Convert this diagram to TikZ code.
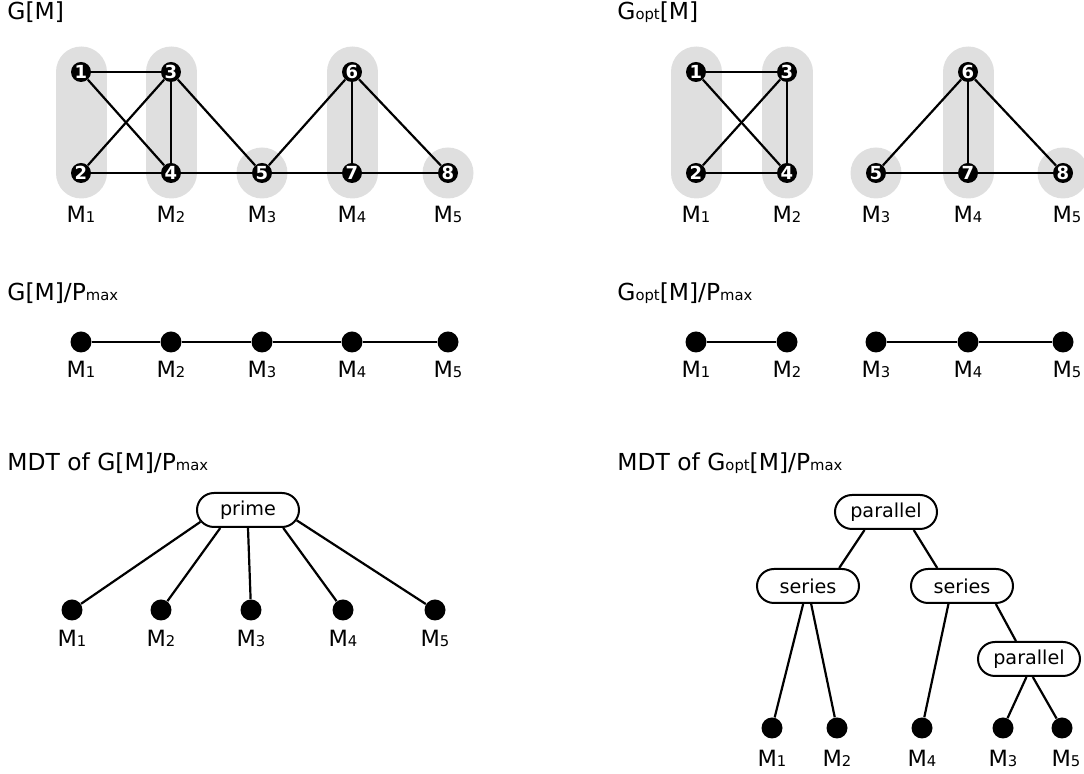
\documentclass[tikz,border=0pt]{standalone}
\usepackage{fontspec}
\setmainfont{DejaVu Sans}
\usetikzlibrary{shapes.misc}
\definecolor{bandgray}{HTML}{DFDFDF}
\tikzset{
  vtx/.style={circle,fill=black,text=white,font=\fontsize{9}{9}\selectfont\bfseries,inner sep=0pt,minimum size=10pt},
  leaf/.style={circle,fill=black,inner sep=0pt,minimum size=10.5pt},
  mod/.style={rounded rectangle,draw=black,line width=1pt,fill=white,minimum width=51pt,minimum height=17pt,inner sep=0pt,font=\fontsize{9.6}{9.6}\selectfont},
  lbl/.style={anchor=base,inner sep=0pt,font=\fontsize{11.2}{13}\selectfont},
  ttl/.style={anchor=base west,inner sep=0pt,font=\fontsize{11.7}{14}\selectfont},
  link/.style={line width=1.1pt,black},
  band/.style={line width=25.5pt,line cap=round,draw=bandgray},
}
\pgfdeclarelayer{back}
\pgfsetlayers{back,main}
\newcommand{\sub}[1]{{\fontsize{7.4}{8}\selectfont #1}}

\begin{document}
\begin{tikzpicture}[x=0.5pt,y=-0.5pt]
  \useasboundingbox (0,0) rectangle (1084,774);

  % titles
  \node[ttl] (t11) at (7,20) {G[M]};
  \node[ttl] (t12) at (617,20) {G\sub{opt}[M]};
  \node[ttl] (t21) at (7,301) {G[M]/P\sub{max}};
  \node[ttl] (t22) at (617,301) {G\sub{opt}[M]/P\sub{max}};
  \node[ttl] (t31) at (7,471) {MDT of G[M]/P\sub{max}};
  \node[ttl] (t32) at (617,471) {MDT of G\sub{opt}[M]/P\sub{max}};

  % G[M]
  \node[vtx] (g1) at (81,72) {1};
  \node[vtx] (g2) at (81,173) {2};
  \node[vtx] (g3) at (171,72) {3};
  \node[vtx] (g4) at (171,173) {4};
  \node[vtx] (g5) at (262,173) {5};
  \node[vtx] (g6) at (352,72) {6};
  \node[vtx] (g7) at (352,173) {7};
  \node[vtx] (g8) at (448,173) {8};
  \foreach \a/\b in {1/3,1/4,2/3,2/4,3/4,3/5,4/5,5/6,5/7,6/7,6/8,7/8}
    \draw[link] (g\a) -- (g\b);

  % Gopt[M]
  \node[vtx] (h1) at (696,72) {1};
  \node[vtx] (h2) at (696,173) {2};
  \node[vtx] (h3) at (787,72) {3};
  \node[vtx] (h4) at (787,173) {4};
  \node[vtx] (h5) at (876,173) {5};
  \node[vtx] (h6) at (968,72) {6};
  \node[vtx] (h7) at (968,173) {7};
  \node[vtx] (h8) at (1063,173) {8};
  \foreach \a/\b in {1/3,1/4,2/3,2/4,3/4,5/6,5/7,6/7,6/8,7/8}
    \draw[link] (h\a) -- (h\b);

  \begin{pgfonlayer}{back}
    \foreach \v in {g,h} {
      \draw[band] (\v1.center) -- (\v2.center);
      \draw[band] (\v3.center) -- (\v4.center);
      \draw[band] (\v6.center) -- (\v7.center);
      \fill[bandgray] (\v5.center) circle (12.75pt);
      \fill[bandgray] (\v8.center) circle (12.75pt);
    }
  \end{pgfonlayer}

  \foreach \i/\x in {1/81,2/171,3/262,4/352,5/448}
    \node[lbl] (gl\i) at (\x,223) {M\sub{\i}};
  \foreach \i/\x in {1/696,2/787,3/876,4/968,5/1067}
    \node[lbl] (hl\i) at (\x,223) {M\sub{\i}};

  % quotients
  \foreach \i/\x in {1/81,2/171,3/262,4/352,5/448} {
    \node[leaf] (p\i) at (\x,342) {};
    \node[lbl] (pl\i) at (\x,378) {M\sub{\i}};
  }
  \foreach \a/\b in {1/2,2/3,3/4,4/5}
    \draw[link] (p\a) -- (p\b);
  \foreach \i/\x in {1/696,2/787,3/876,4/968,5/1063}
    \node[leaf] (q\i) at (\x,342) {};
  \foreach \i/\x in {1/696,2/787,3/876,4/968,5/1067}
    \node[lbl] (ql\i) at (\x,378) {M\sub{\i}};
  \foreach \a/\b in {1/2,3/4,4/5}
    \draw[link] (q\a) -- (q\b);

  % MDT of G[M]/Pmax
  \node[mod] (prime) at (248,510) {prime};
  \foreach \i/\x/\ang in {1/72/194,2/161/213,3/251/270,4/343/333,5/435/348} {
    \node[leaf] (r\i) at (\x,610) {};
    \node[lbl] (rl\i) at (\x,647) {M\sub{\i}};
    \draw[link] (prime.\ang) -- (r\i);
  }

  % MDT of Gopt[M]/Pmax
  \node[mod] (par) at (886,512) {parallel};
  \node[mod] (ser1) at (808,586) {series};
  \node[mod] (ser2) at (962,586) {series};
  \node[mod] (par2) at (1029,659) {parallel};
  \foreach \i/\x/\lx in {1/772/772,2/837/837,4/922/922,3/1003/1003,5/1062/1066} {
    \node[leaf] (u\i) at (\x,728) {};
    \node[lbl] (ul\i) at (\lx,767) {M\sub{\i}};
  }
  \draw[link] (par.220) -- (ser1.30);
  \draw[link] (par.327) -- (ser2.144);
  \draw[link] (ser1.255) -- (u1);
  \draw[link] (ser1.280) -- (u2);
  \draw[link] (ser2.233) -- (u4);
  \draw[link] (ser2.332) -- (par2.126);
  \draw[link] (par2.262) -- (u3);
  \draw[link] (par2.282) -- (u5);
\end{tikzpicture}
\end{document}
